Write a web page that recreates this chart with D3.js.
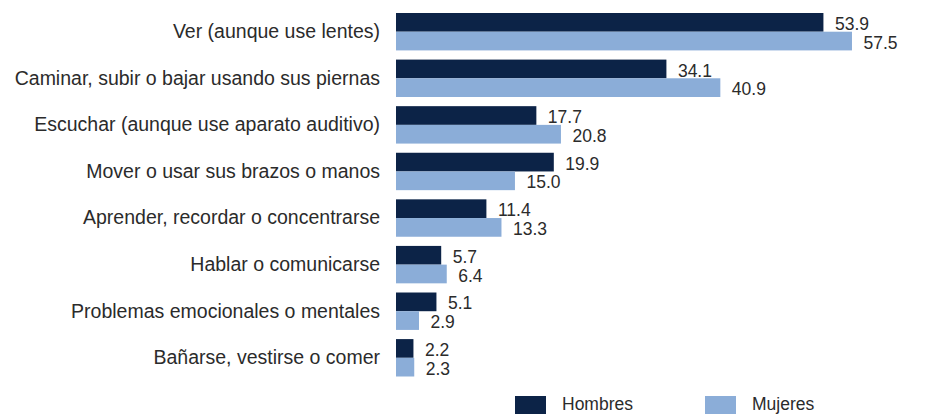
<!DOCTYPE html>
<html>
<head>
<meta charset="utf-8">
<script src="https://cdn.jsdelivr.net/npm/d3@7"></script>
<style>
  html, body { margin: 0; padding: 0; background: #ffffff; }
  svg { display: block; font-family: "Liberation Sans", Arial, sans-serif; }
</style>
</head>
<body>
<svg id="chart" width="941" height="414"></svg>
<script>
// Porcentaje de población con discapacidad según tipo de dificultad, por sexo
const categories = [
  "Ver (aunque use lentes)",
  "Caminar, subir o bajar usando sus piernas",
  "Escuchar (aunque use aparato auditivo)",
  "Mover o usar sus brazos o manos",
  "Aprender, recordar o concentrarse",
  "Hablar o comunicarse",
  "Problemas emocionales o mentales",
  "Bañarse, vestirse o comer"
];
const hombres = [53.9, 34.1, 17.7, 19.9, 11.4, 5.7, 5.1, 2.2];
const mujeres = [57.5, 40.9, 20.8, 15.0, 13.3, 6.4, 2.9, 2.3];
const seriesNames = ["Hombres", "Mujeres"];
const seriesColors = ["#0c2347", "#8badd8"];

const svg = d3.select("#chart");
const x0 = 396;
const x = d3.scaleLinear().domain([0, 60]).range([x0, x0 + 60 * 7.93]);

const y = d3.scaleBand().domain(categories).range([13, 376.5]).paddingInner(0.197).paddingOuter(0);
const sub = d3.scaleBand().domain(seriesNames).range([0, y.bandwidth()]).padding(0);

const textColor = "#2b2b2b";

const rows = categories.map((c, i) => ({ cat: c, vals: [hombres[i], mujeres[i]] }));

const g = svg.selectAll("g.row").data(rows).join("g")
  .attr("class", "row")
  .attr("transform", d => `translate(0,${y(d.cat)})`);

g.selectAll("rect").data(d => d.vals.map((v, k) => ({ v, k }))).join("rect")
  .attr("x", x(0))
  .attr("y", d => sub(seriesNames[d.k]))
  .attr("width", d => x(d.v) - x(0))
  .attr("height", sub.bandwidth())
  .attr("fill", d => seriesColors[d.k]);

// Value labels next to each bar end
g.selectAll("text.val").data(d => d.vals.map((v, k) => ({ v, k }))).join("text")
  .attr("class", "val")
  .attr("x", d => x(d.v) + 11.5)
  .attr("y", d => sub(seriesNames[d.k]) + sub.bandwidth() / 2 + 1.5)
  .attr("dy", "0.35em")
  .attr("font-size", 17.5)
  .attr("fill", textColor)
  .text(d => d3.format(".1f")(d.v));

// Category axis labels
g.append("text")
  .attr("x", 380)
  .attr("y", y.bandwidth() / 2 - 0.5)
  .attr("dy", "0.35em")
  .attr("text-anchor", "end")
  .attr("font-size", 19.5)
  .attr("fill", textColor)
  .text(d => d.cat);

// Legend
const legendX = [515, 705];
const lg = svg.selectAll("g.legend").data(seriesNames).join("g")
  .attr("class", "legend")
  .attr("transform", (d, i) => `translate(${legendX[i]},396)`);
lg.append("rect").attr("width", 31).attr("height", 18).attr("fill", (d, i) => seriesColors[i]);
lg.append("text")
  .attr("x", 47).attr("y", 14)
  .attr("font-size", 17.5).attr("fill", textColor)
  .text(d => d);
</script>
</body>
</html>
